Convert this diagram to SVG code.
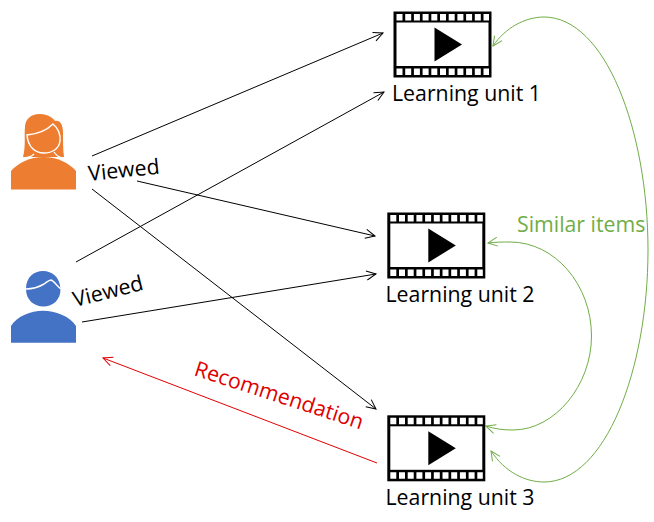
<svg xmlns="http://www.w3.org/2000/svg" xmlns:xlink="http://www.w3.org/1999/xlink" width="654" height="522" viewBox="0 0 654 522">
<style>
text{font-family:"Open Sans","Noto Sans",sans-serif;font-size:21.300px;fill:#000}
.k{fill:none;stroke:#000;stroke-width:1}
.r{fill:none;stroke:#e00000;stroke-width:1}
.g{fill:none;stroke:#70ad47;stroke-width:1}
.h{fill:#fff}
</style>
<defs>
<marker id="ak" markerUnits="userSpaceOnUse" markerWidth="14" markerHeight="14" refX="12" refY="7" orient="auto"><path d="M2.500 2.500L12 7L2.500 11.500" fill="none" stroke="#000"/></marker>
<marker id="ar" markerUnits="userSpaceOnUse" markerWidth="14" markerHeight="14" refX="12" refY="7" orient="auto"><path d="M2.500 2.500L12 7L2.500 11.500" fill="none" stroke="#e00000"/></marker>
<marker id="ag" markerUnits="userSpaceOnUse" markerWidth="14" markerHeight="14" refX="12" refY="7" orient="auto-start-reverse"><path d="M2.500 2.500L12 7L2.500 11.500" fill="none" stroke="#70ad47"/></marker>
<g id="film">
<rect width="98" height="66" fill="#000"/>
<rect class="h" x="3" y="11" width="92" height="43.500"/>
<path class="h" d="M3 2.500h6v6.500h-6zM11.700 2.500h6v6.500h-6zM20.400 2.500h6v6.500h-6zM29.100 2.500h6v6.500h-6zM37.800 2.500h6v6.500h-6zM46.500 2.500h6v6.500h-6zM55.200 2.500h6v6.500h-6zM63.900 2.500h6v6.500h-6zM72.600 2.500h6v6.500h-6zM81.300 2.500h6v6.500h-6zM90 2.500h5.500v6.500h-5.500z"/>
<path class="h" d="M3 57h6v6.500h-6zM11.700 57h6v6.500h-6zM20.400 57h6v6.500h-6zM29.100 57h6v6.500h-6zM37.800 57h6v6.500h-6zM46.500 57h6v6.500h-6zM55.200 57h6v6.500h-6zM63.900 57h6v6.500h-6zM72.600 57h6v6.500h-6zM81.300 57h6v6.500h-6zM90 57h5.500v6.500h-5.500z"/>
<path d="M41 16L68.500 33L41 50z" fill="#000"/>
</g>
</defs>
<g id="connectors">
<path class="k" marker-end="url(#ak)" d="M92 156L383 33"/>
<path class="k" marker-end="url(#ak)" d="M76 262L384 92"/>
<path class="k" marker-end="url(#ak)" d="M137 181L375 236"/>
<path class="k" marker-end="url(#ak)" d="M82 322L376 274"/>
<path class="k" marker-end="url(#ak)" d="M92 189L376 409"/>
<path class="r" marker-end="url(#ar)" d="M377 463L103 358"/>
<path class="g" marker-start="url(#ag)" marker-end="url(#ag)" d="M493 46C505 28 525 17 544 17C605 17 648 130 648 250C648 370 605 482 544 482C525 482 505 472 491 451"/>
<path class="g" marker-start="url(#ag)" marker-end="url(#ag)" d="M488 243C495 242 503 242 510 242C555 242 591.500 285 591.500 336C591.500 385 555 430 513 430C503 430 495 429 486 426"/>
</g>
<g id="user-orange">
<path fill="#ed7d31" d="M40 114C48 114 53 118 55 121C60 120 63 125 63 132C63 142 63 150 64 157L23 157C26 145 24 135 25 127C25 120 30 114 40 114Z"/>
<path fill="#ed7d31" d="M11 171C18 163 30 157 43.500 157C57 157 69 163 76 171V189.500H11Z"/>
<path fill="none" stroke="#fff" stroke-width="1.300" d="M23 158C27 158 31 157 34 154M64 158C60 158 56 155 54 152"/>
<path fill="#ed7d31" stroke="#fff" stroke-width="1.500" d="M27 135C38 134 47 130 53 124C58 128 61 135 60 141C59 149 52 153 44 153C35 153 28 147 27 135Z"/>
</g>
<g id="user-blue">
<path fill="#4472c4" d="M43 271C52 271 60 277 60.500 289C60.500 300 53 306.500 43.500 306.500C34 306.500 26 300 26 289C26 277 34 271 43 271ZM43 310.700C55 310.700 70 316 76 326V342.700H11V326C17 316 31 310.700 43 310.700Z"/>
<path fill="none" stroke="#fff" stroke-width="1.500" d="M26 289C33 289 39 287 44 284C47 282 49 280 51 280C54 281 57 286 61 289"/>
</g>
<g id="unit-1"><use href="#film" x="393.500" y="11.500"/><text x="392" y="100.500">Learning unit 1</text></g>
<g id="unit-2"><use href="#film" x="387.300" y="212.500"/><text x="385.500" y="302">Learning unit 2</text></g>
<g id="unit-3"><use href="#film" x="387.300" y="415.300"/><text x="385.500" y="505">Learning unit 3</text></g>
<g id="labels">
<text transform="translate(89 181) rotate(-6)">Viewed</text>
<text transform="translate(75 307) rotate(-14)">Viewed</text>
<text transform="translate(193 375) rotate(18)" style="fill:#e00000">Recommendation</text>
<text x="517" y="232" style="fill:#70ad47">Similar items</text>
</g>
</svg>
